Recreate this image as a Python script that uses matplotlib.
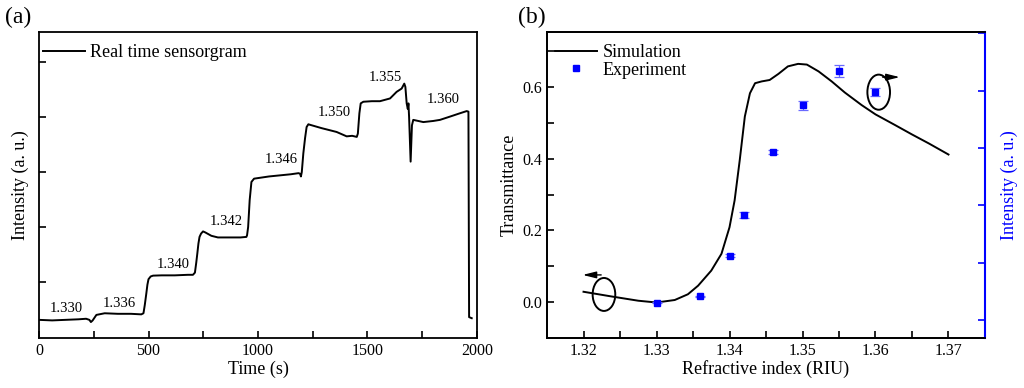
import numpy as np
import matplotlib
matplotlib.use('Agg')
import matplotlib.pyplot as plt
from matplotlib.patches import Ellipse
from matplotlib.lines import Line2D

plt.rcParams['font.family'] = ['Liberation Serif', 'DejaVu Serif']
plt.rcParams['axes.linewidth'] = 1.3

# (a) real time sensorgram
time_s = [0, 60, 120, 180, 215, 230, 237, 245, 262, 300, 360, 420, 467, 477, 483, 490, 495,
          500, 510, 521, 560, 620, 680, 703, 712, 718, 723, 728, 733, 740, 749, 760, 787,
          817, 870, 920, 947, 950, 955, 962, 970, 982, 1050, 1100, 1150, 1185, 1192, 1196,
          1200, 1207, 1215, 1222, 1230, 1238, 1290, 1359, 1405, 1430, 1451, 1456, 1463,
          1469, 1481, 1520, 1557, 1603, 1633, 1656, 1668, 1673, 1679, 1684, 1687, 1690,
          1697, 1703, 1709, 1755, 1800, 1831, 1877, 1922, 1953, 1961, 1964, 1976]
intensity = [0.31, 0.30, 0.31, 0.32, 0.33, 0.31, 0.27, 0.30, 0.40, 0.43, 0.42, 0.42, 0.41,
             0.43, 0.58, 0.79, 0.95, 1.05, 1.10, 1.115, 1.12, 1.12, 1.13, 1.13, 1.17, 1.35,
             1.52, 1.70, 1.82, 1.88, 1.92, 1.90, 1.84, 1.81, 1.81, 1.81, 1.82, 1.85, 2.0,
             2.49, 2.82, 2.88, 2.92, 2.94, 2.96, 2.98, 2.97, 2.92, 3.0, 3.34, 3.62, 3.82,
             3.87, 3.86, 3.80, 3.73, 3.65, 3.66, 3.64, 3.70, 4.07, 4.25, 4.28, 4.29, 4.29,
             4.34, 4.46, 4.52, 4.61, 4.55, 4.25, 4.15, 4.25, 4.0, 3.19, 3.85, 3.95, 3.91,
             3.93, 3.95, 4.01, 4.07, 4.11, 4.10, 0.36, 0.34]
step_labels = ['1.330', '1.336', '1.340', '1.342', '1.346', '1.350', '1.355', '1.360']
step_label_t = [125, 368, 612, 857, 1104, 1347, 1580, 1846]
step_label_y = [0.52, 0.60, 1.31, 2.10, 3.22, 4.09, 4.73, 4.32]

# (b) simulation and experiment
sim_n = [1.3200, 1.3238, 1.3275, 1.3300, 1.3325, 1.3343, 1.3357, 1.3375, 1.3389,
         1.3400, 1.3407, 1.3414, 1.3421, 1.3428, 1.3435, 1.3444, 1.3455, 1.3467, 1.3480,
         1.3494, 1.3506, 1.3522, 1.3540, 1.3558, 1.3581, 1.3600, 1.3627, 1.3650, 1.3673,
         1.3700]
sim_t = [0.029, 0.016, 0.004, -0.001, 0.006, 0.022, 0.046, 0.088, 0.135, 0.209,
         0.284, 0.396, 0.518, 0.583, 0.611, 0.616, 0.620, 0.637, 0.658, 0.665, 0.663,
         0.644, 0.616, 0.585, 0.550, 0.524, 0.494, 0.468, 0.443, 0.412]
exp_n = [1.330, 1.336, 1.340, 1.342, 1.346, 1.350, 1.355, 1.360]
exp_i = [0.308, 0.413, 1.122, 1.826, 2.924, 3.744, 4.343, 3.977]
exp_err = [0.01, 0.015, 0.03, 0.05, 0.035, 0.08, 0.11, 0.067]

fig = plt.figure(figsize=(10.24, 3.88), dpi=100)
ax1 = fig.add_axes([0.0381, 0.1289, 0.4277, 0.7887])
ax = fig.add_axes([0.5342, 0.1289, 0.4277, 0.7887])

# ---- panel (a)
ax1.plot(time_s, intensity, color='black', lw=1.4, label='Real time sensorgram')
for s, t, y in zip(step_labels, step_label_t, step_label_y):
    ax1.text(t, y, s, fontsize=10.5, ha='center', va='center')
ax1.set_xlim(0, 2000)
ax1.set_ylim(-0.02, 5.55)
ax1.set_xticks([0, 500, 1000, 1500, 2000])
ax1.set_xticks([250, 750, 1250, 1750], minor=True)
ax1.set_yticks([1, 2, 3, 4, 5])
ax1.set_yticklabels([])
ax1.tick_params(direction='in', length=5, width=1.2, labelsize=11.5, top=False, right=False)
ax1.tick_params(which='minor', direction='in', length=5, width=1.2)
ax1.set_xlabel('Time (s)', fontsize=13, labelpad=1)
ax1.set_ylabel('Intensity (a. u.)', fontsize=13, labelpad=4)
ax1.legend(loc='upper left', bbox_to_anchor=(0.0, 0.973), frameon=False, fontsize=13,
           handlelength=2.35, handletextpad=0.3, borderaxespad=0, borderpad=0.2)
fig.text(0.005, 0.955, '(a)', fontsize=17, va='center')

# ---- panel (b)
ax.plot(sim_n, sim_t, color='black', lw=1.4)
ax.set_xlim(1.315, 1.375)
ax.set_ylim(-0.1, 0.754)
ax.set_xticks([1.32, 1.33, 1.34, 1.35, 1.36, 1.37])
ax.set_xticks([1.325, 1.335, 1.345, 1.355, 1.365], minor=True)
ax.set_yticks([0.0, 0.2, 0.4, 0.6])
ax.set_yticks([0.1, 0.3, 0.5, 0.7], minor=True)
ax.set_yticklabels(['0.0', '0.2', '0.4', '0.6'])
ax.tick_params(direction='in', length=5, width=1.2, labelsize=11.5, top=False, right=False)
ax.tick_params(which='minor', direction='in', length=5, width=1.2, top=False, right=False)
ax.set_xlabel('Refractive index (RIU)', fontsize=13, labelpad=1)
ax.set_ylabel('Transmittance', fontsize=13, labelpad=3)
fig.text(0.506, 0.955, '(b)', fontsize=17, va='center')

ax.add_patch(Ellipse((1.3228, 0.0215), 0.0031, 0.092, fill=False, lw=1.4, color='black'))
ax.annotate('', xy=(1.3195, 0.076), xytext=(1.3228, 0.076),
            arrowprops=dict(arrowstyle='-|>,head_length=0.8,head_width=0.2', color='black', lw=1))
ax.add_patch(Ellipse((1.36044, 0.586), 0.0031, 0.098, fill=False, lw=1.4, color='black'))
ax.annotate('', xy=(1.3637, 0.628), xytext=(1.3606, 0.628),
            arrowprops=dict(arrowstyle='-|>,head_length=0.8,head_width=0.2', color='black', lw=1))

ax2 = ax.twinx()
ax2.set_position([0.5342, 0.1289, 0.4277, 0.7887])
ax2.errorbar(exp_n, exp_i, yerr=exp_err, fmt='s', color='blue', ms=4.5, ecolor='#6a6aff',
             elinewidth=0.9, capsize=3.5, capthick=0.9)
ax2.set_ylim(-0.31, 5.02)
ax2.set_yticks([0, 1, 2, 3, 4, 5])
ax2.set_yticklabels([])
ax2.tick_params(direction='in', length=5, width=1.2, colors='blue')
ax2.spines['right'].set_color('blue')
ax2.spines['right'].set_linewidth(1.5)
ax2.set_ylabel('Intensity (a. u.)', fontsize=13, color='blue', labelpad=8)

handles = [Line2D([], [], color='black', lw=1.4),
           Line2D([], [], color='blue', marker='s', ms=4.5, ls='none')]
ax2.legend(handles, ['Simulation', 'Experiment'], loc='upper left',
           bbox_to_anchor=(0.01, 0.973), frameon=False, fontsize=13, handlelength=2.35,
           handletextpad=0.3, borderaxespad=0, borderpad=0.2, labelspacing=0.05)

fig.savefig('out.png', dpi=100)
